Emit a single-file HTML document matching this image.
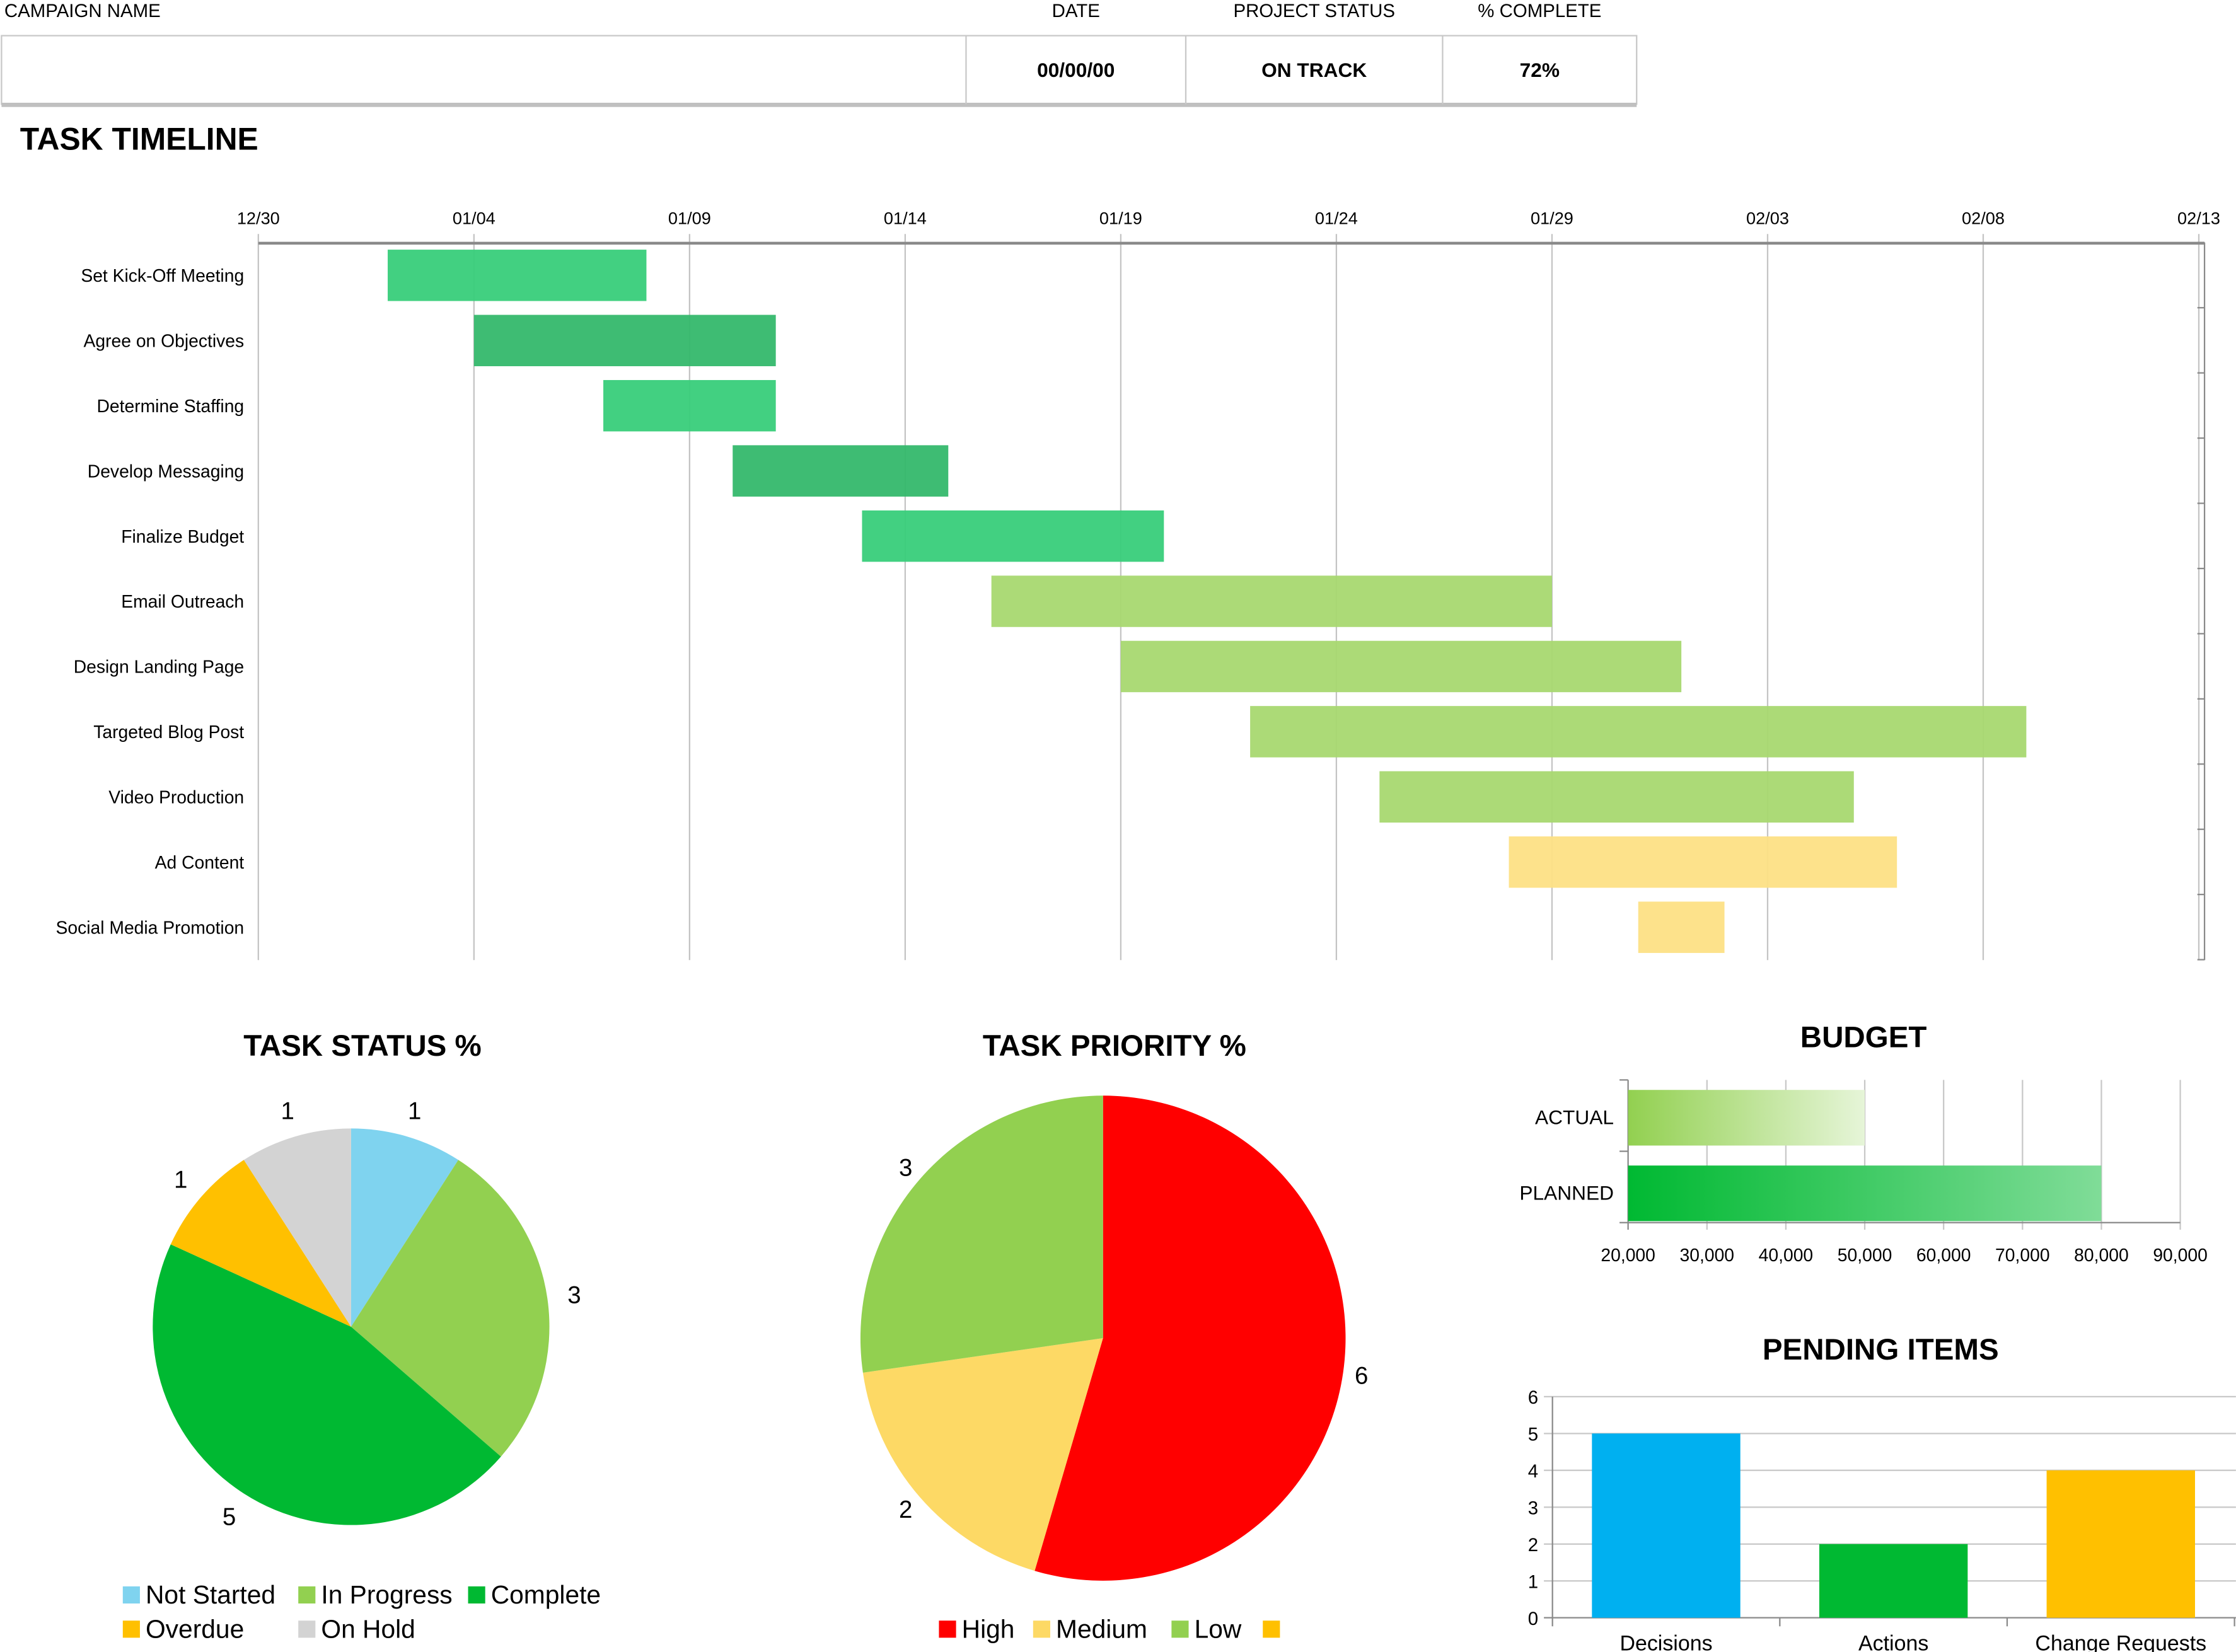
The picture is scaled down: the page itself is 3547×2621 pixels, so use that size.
<!DOCTYPE html>
<html><head><meta charset="utf-8"><style>html,body{margin:0;padding:0;background:#fff}svg{display:block}text{font-family:"Liberation Sans",sans-serif}</style></head>
<body>
<svg id="s" width="3547" height="2621" viewBox="0 0 1567 1158" xmlns="http://www.w3.org/2000/svg">
<g font-size="13" fill="#000">
<text x="3" y="12">CAMPAIGN NAME</text>
<text x="754" y="12" text-anchor="middle">DATE</text>
<text x="921" y="12" text-anchor="middle">PROJECT  STATUS</text>
<text x="1079" y="12" text-anchor="middle">% COMPLETE</text>
<rect x="1" y="25" width="1146" height="48" fill="#fff" stroke="#c8c8c8" stroke-width="1"/>
<line x1="1" y1="73.5" x2="1147" y2="73.5" stroke="#c0c0c0" stroke-width="3"/>
<line x1="677" y1="25" x2="677" y2="73" stroke="#c8c8c8"/><line x1="831" y1="25" x2="831" y2="73" stroke="#c8c8c8"/><line x1="1011" y1="25" x2="1011" y2="73" stroke="#c8c8c8"/>
<g font-weight="bold" font-size="14" text-anchor="middle">
<text x="754" y="54">00/00/00</text>
<text x="921" y="54">ON TRACK</text>
<text x="1079" y="54">72%</text></g>
</g>
<text x="14" y="105" font-size="22" font-weight="bold">TASK TIMELINE</text>
<g id="gantt"></g>
<text x="254" y="740" font-size="21" font-weight="bold" text-anchor="middle">TASK STATUS %</text>
<g id="pie1"></g>
<text x="781" y="740" font-size="21" font-weight="bold" text-anchor="middle">TASK PRIORITY %</text>
<g id="pie2"></g>
<text x="1306" y="734" font-size="21" font-weight="bold" text-anchor="middle">BUDGET</text>
<g id="budget"></g>
<text x="1318" y="953" font-size="21" font-weight="bold" text-anchor="middle">PENDING ITEMS</text>
<g id="pending"></g>
</svg>
<script>
const NS="http://www.w3.org/2000/svg";
function mk(p,t,a,txt){const e=document.createElementNS(NS,t);for(const k in a)e.setAttribute(k,a[k]);if(txt!==undefined)e.textContent=txt;p.appendChild(e);return e;}
// Gantt data
const tasks=["Set Kick-Off Meeting","Agree on Objectives","Determine Staffing","Develop Messaging","Finalize Budget","Email Outreach","Design Landing Page","Targeted Blog Post","Video Production","Ad Content","Social Media Promotion"];
const taskStart=[3,5,8,11,14,17,20,23,26,29,32];
const taskEnd=[9,12,12,16,21,30,33,41,37,38,34];
const taskColor=["#38cd7a","#34b86b","#38cd7a","#34b86b","#38cd7a","#a8d870","#a8d870","#a8d870","#a8d870","#fde085","#fde085"];
const dateTicks=["12/30","01/04","01/09","01/14","01/19","01/24","01/29","02/03","02/08","02/13"];
const tickDays=[0,5,10,15,20,25,30,35,40,45];
// Pies
const statusCats=["Not Started","In Progress","Complete","Overdue","On Hold"];
const statusVals=[1,3,5,1,1];
const statusCols=["#7fd3ef","#92d050","#00b932","#ffc000","#d3d3d3"];
const prioCats=["High","Medium","Low"];
const prioVals=[6,2,3];
const prioCols=["#ff0000","#fdd965","#92d050"];
// Budget
const budgetCats=["ACTUAL","PLANNED"];
const budgetVals=[50000,80000];
const budgetTicks=[20000,30000,40000,50000,60000,70000,80000,90000];
// Pending
const pendCats=["Decisions","Actions","Change Requests"];
const pendVals=[5,2,4];
const pendCols=["#00b0f0","#00b932","#ffc000"];
const pendTicks=[0,1,2,3,4,5,6];

(function(){
 const g=document.getElementById('gantt');
 const x=d=>181+d*(1541-181)/45, rowY=i=>193+i*45.7;
 tickDays.forEach((d,i)=>{
  const l=mk(g,'line',{x1:x(d),y1:164,x2:x(d),y2:673,stroke:'#c4c4c4','stroke-width':1});
  
  const t=mk(g,'text',{x:x(d),y:157,'font-size':12,'text-anchor':'middle'},dateTicks[i]);
  
 });
 mk(g,'line',{x1:181,y1:170.5,x2:1545,y2:170.5,stroke:'#8a8a8a','stroke-width':2});
 mk(g,'line',{x1:1545,y1:170,x2:1545,y2:673,stroke:'#8a8a8a','stroke-width':1});
 for(let i=0;i<=11;i++)mk(g,'line',{x1:1540,y1:170+i*45.7,x2:1545,y2:170+i*45.7,stroke:'#8a8a8a'});
 tasks.forEach((n,i)=>{
  const t=mk(g,'text',{x:171,y:rowY(i)+4.5,'font-size':12.5,'text-anchor':'end'},n);
  
  const r=mk(g,'rect',{x:x(taskStart[i]),y:rowY(i)-18,width:x(taskEnd[i])-x(taskStart[i]),height:36,fill:taskColor[i],'fill-opacity':0.95});
  
 });
})();

function pie(id,cx,cy,r,vals,cols,labelR){
 const g=document.getElementById(id);const tot=vals.reduce((a,b)=>a+b,0);let a0=0;
 vals.forEach((v,i)=>{
  const a1=a0+v/tot*2*Math.PI;
  const p=(a)=>[cx+r*Math.sin(a),cy-r*Math.cos(a)];
  const [x0,y0]=p(a0),[x1,y1]=p(a1);
  const s=mk(g,'path',{d:`M${cx},${cy}L${x0},${y0}A${r},${r} 0 ${a1-a0>Math.PI?1:0} 1 ${x1},${y1}Z`,fill:cols[i]});
  
  const am=(a0+a1)/2;
  const t=mk(g,'text',{x:cx+labelR*Math.sin(am),y:cy-labelR*Math.cos(am)+6,'font-size':17,'text-anchor':'middle'},String(v));
  
  a0=a1;
 });
}
pie('pie1',246,930,139,statusVals,statusCols,158);
pie('pie2',773,938,170,prioVals,prioCols,183);
// legends
(function(){
 const g1=document.getElementById('pie1');
 const pos=[[86,1124],[209,1124],[328,1124],[86,1148],[209,1148]];
 statusCats.forEach((c,i)=>{
  const r=mk(g1,'rect',{x:pos[i][0],y:pos[i][1]-12,width:12,height:12,fill:statusCols[i]});
  
  const t=mk(g1,'text',{x:pos[i][0]+16,y:pos[i][1],'font-size':18},c);
  
 });
 const g2=document.getElementById('pie2');
 const p2=[658,724,821];
 prioCats.forEach((c,i)=>{
  const r=mk(g2,'rect',{x:p2[i],y:1136,width:12,height:12,fill:prioCols[i]});
  
  const t=mk(g2,'text',{x:p2[i]+16,y:1148,'font-size':18},c);
  
 });
 mk(g2,'rect',{x:885,y:1136,width:12,height:12,fill:'#ffc000'});
})();
// budget
(function(){
 const g=document.getElementById('budget');
 const defs=mk(g,'defs',{});
 const gr1=mk(defs,'linearGradient',{id:'ga'});mk(gr1,'stop',{offset:0,'stop-color':'#92d050'});mk(gr1,'stop',{offset:1,'stop-color':'#e6f5d8'});
 const gr2=mk(defs,'linearGradient',{id:'gp'});mk(gr2,'stop',{offset:0,'stop-color':'#00b932'});mk(gr2,'stop',{offset:1,'stop-color':'#80dc98'});
 const x=v=>1141+(v-20000)*(1528-1141)/70000;
 budgetTicks.forEach(v=>{
  mk(g,'line',{x1:x(v),y1:757,x2:x(v),y2:862,stroke:v===20000?'#8a8a8a':'#c8c8c8'});
  const t=mk(g,'text',{x:x(v),y:884,'font-size':12.5,'text-anchor':'middle'},v.toLocaleString('en-US'));
  
 });
 mk(g,'line',{x1:1135,y1:857,x2:1528,y2:857,stroke:'#8a8a8a'});
 mk(g,'line',{x1:1135,y1:757,x2:1141,y2:757,stroke:'#8a8a8a'});
 mk(g,'line',{x1:1135,y1:807,x2:1141,y2:807,stroke:'#8a8a8a'});
 const ys=[764,817],fills=['url(#ga)','url(#gp)'];
 budgetCats.forEach((c,i)=>{
  const r=mk(g,'rect',{x:x(20000),y:ys[i],width:x(budgetVals[i])-x(20000),height:39,fill:fills[i]});
  
  const t=mk(g,'text',{x:1131,y:ys[i]+24,'font-size':14,'text-anchor':'end'},c);
  
 });
})();
// pending
(function(){
 const g=document.getElementById('pending');
 const y=v=>1134-v*(1134-979)/6;
 pendTicks.forEach(v=>{
  mk(g,'line',{x1:1082,y1:y(v),x2:1567,y2:y(v),stroke:v===0?'#8a8a8a':'#c8c8c8'});
  const t=mk(g,'text',{x:1078,y:y(v)+5,'font-size':13,'text-anchor':'end'},String(v));
  
 });
 mk(g,'line',{x1:1088,y1:979,x2:1088,y2:1140,stroke:'#8a8a8a'});
 const cw=(1566-1088)/3;
 for(let i=1;i<=3;i++)mk(g,'line',{x1:1088+i*cw,y1:1134,x2:1088+i*cw,y2:1140,stroke:'#8a8a8a'});
 pendCats.forEach((c,i)=>{
  const cx=1088+cw*(i+0.5);
  const r=mk(g,'rect',{x:cx-52,y:y(pendVals[i]),width:104,height:y(0)-y(pendVals[i]),fill:pendCols[i]});
  
  const t=mk(g,'text',{x:cx,y:1157,'font-size':15,'text-anchor':'middle'},c);
  
 });
})();
</script>
</body></html>
